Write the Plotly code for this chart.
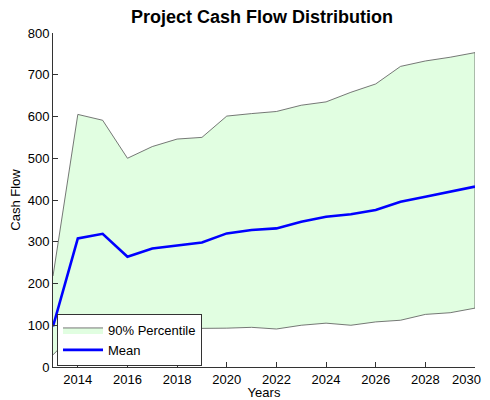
import plotly.graph_objects as go

years = list(range(2013, 2031))
upper = [218, 605, 591, 500, 528, 546, 550, 601, 607, 612, 627, 635, 658, 678, 720, 733, 742, 753]
lower = [29, 90, 88, 87, 90, 92, 93, 93, 95, 91, 100, 105, 100, 108, 112, 126, 130, 141]
mean = [97, 308, 319, 264, 284, 291, 298, 320, 328, 332, 348, 360, 366, 376, 396, 408, 420, 432]
x_ticks = list(range(2014, 2031, 2))
x_labels = [str(v) for v in x_ticks]

fig = go.Figure()
fig.add_trace(go.Scatter(
    x=years + years[::-1], y=upper + lower[::-1],
    fill="toself", fillcolor="#E1FEE1",
    line=dict(color="#555555", width=0.8),
    mode="lines", name="90% Percentile"))
fig.add_trace(go.Scatter(
    x=years, y=mean, mode="lines", name="Mean",
    line=dict(color="#0000FF", width=2.6)))

font = "Liberation Sans, Arial, sans-serif"
W, H = 474, 392
fig.update_layout(
    width=W, height=H,
    margin=dict(l=45, r=7, t=25, b=33, autoexpand=False),
    paper_bgcolor="white", plot_bgcolor="white",
    font=dict(family=font, size=13, color="black"),
    title=dict(text="<b>Project Cash Flow Distribution</b>", x=254 / W, xanchor="center",
               y=1 - 9 / H, yanchor="middle", font=dict(size=18, family=font)),
    legend=dict(x=0.0095, y=0.003, xanchor="left", yanchor="bottom",
                bgcolor="white", bordercolor="#333333", borderwidth=1,
                font=dict(size=13), tracegroupgap=0, itemwidth=40),
    showlegend=True,
)
# last tick label placed so it stays inside the visible page
fig.add_annotation(text=x_labels[-1], x=x_ticks[-1], xref="x", y=0, yref="paper",
                   xanchor="right", yanchor="middle", xshift=7, yshift=-12,
                   showarrow=False, font=dict(size=13, family=font), borderpad=0)
fig.update_xaxes(range=[2013, 2030], tickvals=x_ticks,
                 ticktext=x_labels[:-1] + [""], showgrid=False, zeroline=False,
                 showline=True, linecolor="#333333", linewidth=1, ticks="inside", ticklen=5,
                 tickcolor="#333333", automargin=False, ticklabeloverflow="allow",
                 tickfont=dict(size=13),
                 title=dict(text="Years", standoff=1, font=dict(size=13)))
fig.update_yaxes(range=[0, 800], dtick=100, showgrid=False, zeroline=False,
                 showline=True, linecolor="#333333", linewidth=1, ticks="inside", ticklen=5,
                 tickcolor="#333333", automargin=False, tickfont=dict(size=13),
                 title=dict(text="Cash Flow", standoff=14, font=dict(size=13)))

fig.write_html("out.html")
